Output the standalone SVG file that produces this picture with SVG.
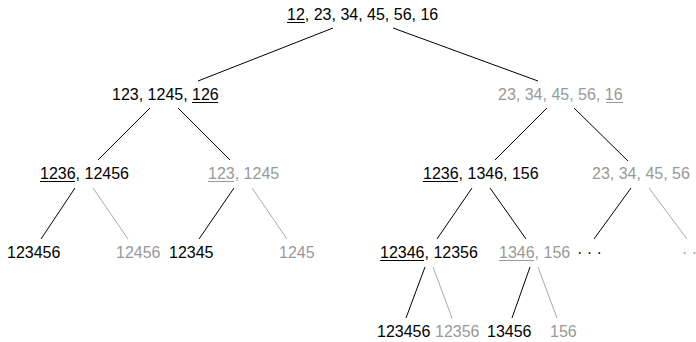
<svg xmlns="http://www.w3.org/2000/svg" width="696" height="342" viewBox="0 0 696 342">
<style>
text{font-family:"Liberation Sans",Arial,sans-serif;font-size:16px;fill:#000}
.g{fill:#999}
.e{stroke:#000;stroke-width:1;fill:none}
.eg{stroke:#aaa;stroke-width:1;fill:none}
.u{stroke:#000;stroke-width:1}
.ug{stroke:#999;stroke-width:1}
</style>
<rect width="696" height="342" fill="#fff"/>
<g id="connectors">
<line class="e" x1="333" y1="28" x2="198" y2="81"/>
<line class="e" x1="393" y1="28" x2="538" y2="81"/>
<line class="e" x1="150" y1="108" x2="98" y2="160"/>
<line class="e" x1="178" y1="108" x2="230" y2="160"/>
<line class="e" x1="547" y1="108" x2="495" y2="160"/>
<line class="e" x1="574" y1="108" x2="628" y2="161"/>
<line class="e" x1="75" y1="188" x2="41" y2="239"/>
<line class="eg" x1="93" y1="188" x2="128" y2="239"/>
<line class="e" x1="234" y1="188" x2="199" y2="239"/>
<line class="eg" x1="252" y1="188" x2="287" y2="239"/>
<line class="e" x1="472" y1="188" x2="437" y2="239"/>
<line class="e" x1="490" y1="188" x2="526" y2="239"/>
<line class="e" x1="631" y1="188" x2="594" y2="239"/>
<line class="eg" x1="649" y1="188" x2="687" y2="239"/>
<line class="e" x1="425" y1="267" x2="406" y2="318"/>
<line class="eg" x1="433" y1="267" x2="452" y2="318"/>
<line class="e" x1="530" y1="267" x2="512" y2="318"/>
<line class="eg" x1="538" y1="267" x2="557" y2="318"/>
</g>
<g id="root"><text x="287" y="20">12, 23, 34, 45, 56, 16</text><line class="u" x1="287" y1="22.5" x2="305" y2="22.5"/></g>
<g id="n1L"><text x="112" y="100">123, 1245, 126</text><line class="u" x1="192" y1="102.5" x2="218" y2="102.5"/></g>
<g id="n1R"><text class="g" x="498" y="100">23, 34, 45, 56, 16</text><line class="ug" x1="606" y1="102.5" x2="623" y2="102.5"/></g>
<g id="n2a"><text x="40" y="179">1236, 12456</text><line class="u" x1="40" y1="181.5" x2="75" y2="181.5"/></g>
<g id="n2b"><text class="g" x="208" y="179">123, 1245</text><line class="ug" x1="208" y1="181.5" x2="234" y2="181.5"/></g>
<g id="n2c"><text x="423" y="179">1236, 1346, 156</text><line class="u" x1="423" y1="181.5" x2="458" y2="181.5"/></g>
<g id="n2d"><text class="g" x="592" y="179">23, 34, 45, 56</text></g>
<g id="n3a"><text x="7" y="258">123456</text></g>
<g id="n3b"><text class="g" x="116" y="258">12456</text></g>
<g id="n3c"><text x="169" y="258">12345</text></g>
<g id="n3d"><text class="g" x="279" y="258">1245</text></g>
<g id="n3e"><text x="380" y="258">12346, 12356</text><line class="u" x1="380" y1="260.5" x2="424" y2="260.5"/></g>
<g id="n3f"><text class="g" x="499" y="258">1346, 156</text><line class="ug" x1="499" y1="260.5" x2="534" y2="260.5"/></g>
<g id="n3g"><text x="577" y="258">· · ·</text></g>
<g id="n3h"><text class="g" x="682" y="258">· ·</text></g>
<g id="n4a"><text x="377" y="337">123456</text></g>
<g id="n4b"><text class="g" x="435" y="337">12356</text></g>
<g id="n4c"><text x="487" y="337">13456</text></g>
<g id="n4d"><text class="g" x="550" y="337">156</text></g>
</svg>
